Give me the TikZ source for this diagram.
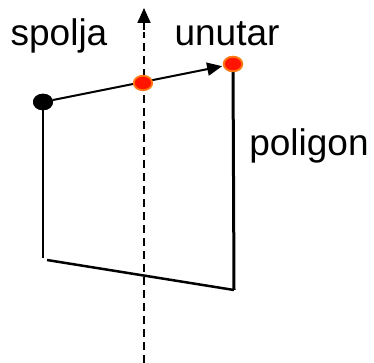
\documentclass[tikz,border=0pt]{standalone}
\usepackage{fontspec}
\setmainfont{Liberation Sans}
\usetikzlibrary{arrows.meta,shapes.geometric}
\begin{document}
\begin{tikzpicture}[x=1pt,y=-1pt,
  lbl/.style={font=\fontsize{37}{42}\selectfont, inner sep=0pt},
  blackdot/.style={ellipse, fill=black, minimum width=20pt, minimum height=16.5pt, inner sep=0pt},
  reddot/.style={ellipse, fill={rgb,255:red,255;green,20;blue,0}, draw={rgb,255:red,255;green,120;blue,20}, line width=1.8pt, minimum width=18.5pt, minimum height=14.5pt, inner sep=0pt},
  edge/.style={line width=2.5pt},
  axis/.style={line width=1.8pt, dash pattern=on 8pt off 5pt},
  tip/.style={-{Triangle[length=15pt,width=13pt]}}
]
\useasboundingbox (0,0) rectangle (374,363);
% axis
\coordinate (dbot) at (144,363);
\coordinate (dtop) at (144,8);
\draw[axis] (dbot) -- (144,32);
\draw[line width=1.8pt, tip] (144,30) -- (dtop);
% polygon
\coordinate (bl) at (43,258);
\coordinate (bl2) at (47,260);
\coordinate (br) at (234,290);
\node[blackdot] (b) at (43,102) {};
\node[reddot] (r2) at (233,64) {};
\draw[edge] (b.center) -- (bl);
\draw[edge] (bl2) -- (br);
\draw[line width=3pt] (br) -- (r2.center);
\draw[line width=2pt, tip, shorten >=1pt] (b) -- (r2);
\node[reddot] (r1) at (143,83) {};
\node[blackdot] at (b) {};
\node[reddot] at (r2) {};
% labels
\node[lbl] (s) at (59,36) {spolja};
\node[lbl] (u) at (227,34) {unutar};
\node[lbl] (p) at (309,146) {poligon};
\end{tikzpicture}
\end{document}
